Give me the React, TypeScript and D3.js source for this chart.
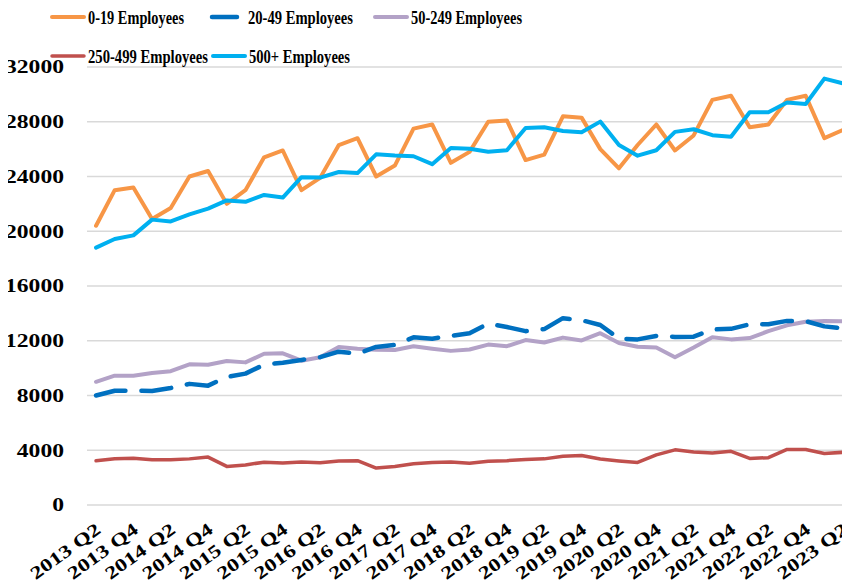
import { useEffect, useRef } from 'react';
import * as d3 from 'd3';

const quarters: string[] = [];
for (let y = 2013; y <= 2023; y++) {
  for (const q of ['Q1', 'Q2', 'Q3', 'Q4']) {
    if (y === 2013 && q === 'Q1') continue;
    if (y === 2023 && (q === 'Q3' || q === 'Q4')) continue;
    quarters.push(`${y} ${q}`);
  }
}

const emp0to19 = [20400, 23000, 23200, 20900, 21700, 24000, 24400, 22000, 23000, 25400, 25900, 23000, 23900, 26300, 26800, 24000, 24800, 27500, 27800, 25000, 25800, 28000, 28100, 25200, 25600, 28400, 28300, 26000, 24600, 26300, 27800, 25900, 27000, 29600, 29900, 27600, 27800, 29600, 29900, 26800, 27400];
const emp20to49 = [8000, 8350, 8350, 8330, 8550, 8850, 8720, 9350, 9600, 10250, 10400, 10600, 10800, 11200, 11050, 11550, 11700, 12250, 12150, 12350, 12550, 13250, 13000, 12700, 12850, 13650, 13500, 13150, 12150, 12100, 12350, 12280, 12300, 12820, 12870, 13200, 13200, 13450, 13430, 13050, 12900];
const emp50to249 = [9000, 9450, 9450, 9650, 9780, 10280, 10250, 10520, 10420, 11050, 11080, 10540, 10800, 11550, 11420, 11350, 11320, 11600, 11420, 11260, 11360, 11720, 11600, 12050, 11870, 12230, 12020, 12550, 11830, 11560, 11500, 10800, 11500, 12250, 12100, 12200, 12700, 13130, 13390, 13450, 13430];
const emp250to499 = [3230, 3380, 3420, 3310, 3300, 3370, 3500, 2820, 2930, 3130, 3060, 3150, 3090, 3220, 3240, 2700, 2820, 3010, 3100, 3150, 3050, 3200, 3240, 3320, 3370, 3560, 3620, 3360, 3220, 3110, 3660, 4030, 3880, 3800, 3920, 3400, 3460, 4060, 4060, 3760, 3850];
const emp500plus = [18800, 19430, 19700, 20850, 20720, 21230, 21650, 22250, 22150, 22650, 22460, 23950, 23920, 24330, 24250, 25620, 25530, 25480, 24900, 26080, 26030, 25810, 25920, 27550, 27600, 27330, 27230, 28010, 26300, 25520, 25920, 27260, 27450, 27020, 26900, 28700, 28690, 29400, 29300, 31150, 30800];

const yTicks = [0, 4000, 8000, 12000, 16000, 20000, 24000, 28000, 32000];

const series = [
  { name: '0-19 Employees', values: emp0to19, color: '#F79646', dash: '', width: 4 },
  { name: '20-49 Employees', values: emp20to49, color: '#0070C0', dash: '30 16', width: 4.5 },
  { name: '50-249 Employees', values: emp50to249, color: '#B3A2C7', dash: '', width: 4 },
  { name: '250-499 Employees', values: emp250to499, color: '#C0504D', dash: '', width: 3.5 },
  { name: '500+ Employees', values: emp500plus, color: '#00B0F0', dash: '', width: 4 },
];

// legend layout
const legendItems = [
  { s: 0, x: 52, y: 17, tw: 96 },
  { s: 1, x: 212, y: 17, tw: 105 },
  { s: 2, x: 375, y: 17, tw: 111 },
  { s: 3, x: 52, y: 56, tw: 120 },
  { s: 4, x: 213, y: 56, tw: 101 },
];

export default function App() {
  const ref = useRef<SVGSVGElement | null>(null);

  useEffect(() => {
    if (!ref.current) return;
    const width = 850;
    const height = 588;
    const svg = d3.select(ref.current).attr('width', width).attr('height', height);
    svg.selectAll('*').remove();

    const x = d3.scalePoint<string>().domain(quarters).range([86.7, 852.4]).padding(0.5);
    const y = d3.scaleLinear().domain([0, 32000]).range([505, 67]);

    // gridlines
    svg
      .append('g')
      .selectAll('line')
      .data(yTicks)
      .enter()
      .append('line')
      .attr('x1', 87)
      .attr('x2', 850)
      .attr('y1', (d) => y(d))
      .attr('y2', (d) => y(d))
      .attr('stroke', '#d9d9d9')
      .attr('stroke-width', 1.5);

    svg
      .append('g')
      .selectAll('text')
      .data(yTicks)
      .enter()
      .append('text')
      .attr('x', 64)
      .attr('y', (d) => y(d))
      .attr('dy', '0.34em')
      .attr('text-anchor', 'end')
      .attr('font-family', 'Liberation Serif')
      .attr('font-weight', 'bold')
      .attr('font-size', 18.5)
      .attr('textLength', (d) => String(d).length * 11.8)
      .attr('lengthAdjust', 'spacingAndGlyphs')
      .text((d) => String(d));

    // x labels, every second quarter
    const labels = quarters.filter((_q, i) => i % 2 === 0);
    svg
      .append('g')
      .selectAll('text')
      .data(labels)
      .enter()
      .append('text')
      .attr('transform', (d) => `translate(${(x(d) as number) + 6},${532}) rotate(-36)`)
      .attr('text-anchor', 'end')
      .attr('font-family', 'Liberation Serif')
      .attr('font-weight', 'bold')
      .attr('font-size', 18)
      .attr('textLength', 82)
      .attr('lengthAdjust', 'spacingAndGlyphs')
      .text((d) => d);

    const line = d3
      .line<number>()
      .x((_d, i) => x(quarters[i]) as number);

    const order = [2, 1, 3, 0, 4];
    order.forEach((si) => {
      const s = series[si];
      svg
        .append('path')
        .datum(s.values)
        .attr('fill', 'none')
        .attr('stroke', s.color)
        .attr('stroke-width', s.width)
        .attr('stroke-linejoin', 'round')
        .attr('stroke-linecap', 'round')
        .attr('stroke-dasharray', s.dash || null)
        .attr('d', line.y((d) => y(d)));
    });

    // legend
    const lg = svg.append('g');
    legendItems.forEach((it) => {
      const s = series[it.s];
      lg.append('line')
        .attr('x1', it.x)
        .attr('x2', it.x + 32)
        .attr('y1', it.y)
        .attr('y2', it.y)
        .attr('stroke', s.color)
        .attr('stroke-width', s.width)
        .attr('stroke-linecap', 'round')
        .attr('stroke-dasharray', s.dash ? '25 7' : null);
      lg.append('text')
        .attr('x', it.x + 36)
        .attr('y', it.y)
        .attr('dy', '0.35em')
        .attr('font-family', 'Liberation Serif')
        .attr('font-weight', 'bold')
        .attr('font-size', 19.5)
        .attr('textLength', it.tw)
        .attr('lengthAdjust', 'spacingAndGlyphs')
        .text(s.name);
    });
  }, []);

  return (
    <div style={{ margin: -8 }}>
      <svg ref={ref} style={{ display: 'block', background: '#fff' }}></svg>
    </div>
  );
}
